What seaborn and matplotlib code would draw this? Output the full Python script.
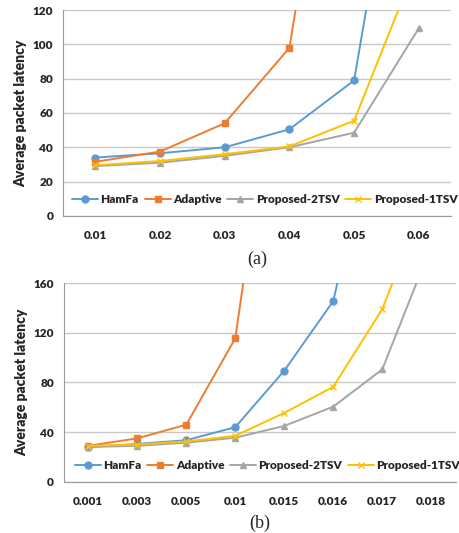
import numpy as np
import pandas as pd
import matplotlib
matplotlib.use('Agg')
import matplotlib.pyplot as plt
import seaborn as sns

# chart (a)
rates_a = ['0.01', '0.02', '0.03', '0.04', '0.05', '0.06']
hamfa_a = [34, 36.5, 40, 50.5, 79, 300]
adaptive_a = [31.5, 37.5, 54, 98, 330, np.nan]
p2tsv_a = [29, 31, 35, 40, 48.5, 109.5]
p1tsv_a = [29.5, 32, 36, 40.5, 55.5, 150]

# chart (b)
rates_b = ['0.001', '0.003', '0.005', '0.01', '0.015', '0.016', '0.017', '0.018']
hamfa_b = [28, 30.5, 33.5, 44, 89.5, 145.5, 320, np.nan]
adaptive_b = [29, 35, 46, 115.5, 390, np.nan, np.nan, np.nan]
p2tsv_b = [28, 29, 31.5, 35.5, 45, 60.5, 90.5, 190]
p1tsv_b = [29, 30, 32.5, 37, 55.5, 76.5, 139, 240]

names = ['HamFa', 'Adaptive', 'Proposed-2TSV', 'Proposed-1TSV']
colors = ['#5B9BD5', '#ED7D31', '#A5A5A5', '#FFC000']
marks = ['o', 's', '^', 'x']

sns.set_style('white')
plt.rcParams['font.family'] = ['Lato', 'DejaVu Sans']


def draw(ax, rates, series, ymax, ystep, label):
    for name, vals, c, m in zip(names, series, colors, marks):
        df = pd.DataFrame({'pos': range(len(vals)), 'latency': vals}).dropna()
        sns.lineplot(data=df, x='pos', y='latency', color=c, marker=m,
                     markersize=5, linewidth=1.4, markeredgecolor=c,
                     markeredgewidth=1, label=name, ax=ax)
    n = len(rates)
    ax.set_xlim(-0.5, n - 0.5)
    ax.set_ylim(0, ymax)
    ax.set_xticks(range(n))
    ax.set_xticklabels(rates, fontsize=8.5, fontweight='heavy', color='#262626')
    ax.set_xticks(np.arange(-0.5, n, 1.0), minor=True)
    ax.tick_params(axis='x', which='major', length=0, pad=10)
    ax.tick_params(axis='x', which='minor', length=4, color='#999999', direction='out')
    ax.set_yticks(np.arange(0, ymax + 1, ystep))
    ax.tick_params(axis='y', length=3, color='#999999', labelsize=8.5, pad=4)
    for t in ax.get_yticklabels():
        t.set_fontweight('heavy')
        t.set_color('#262626')
    ax.yaxis.grid(True, color='#C8C8C8', linewidth=1)
    ax.set_axisbelow(True)
    for s in ['top', 'right']:
        ax.spines[s].set_visible(False)
    for s in ['left', 'bottom']:
        ax.spines[s].set_color('#999999')
    ax.set_xlabel('')
    ax.set_ylabel('Average packet latency', fontsize=10, fontweight='heavy')
    leg = ax.legend(loc='center', bbox_to_anchor=(0.52, 0.08), ncol=4, frameon=True,
                    facecolor='white', edgecolor='none', framealpha=1,
                    handlelength=2.2, handletextpad=0.2, columnspacing=0.5,
                    borderpad=0.1, prop={'weight': 'heavy', 'size': 8.5})
    for t in leg.get_texts():
        t.set_color('#262626')
    ax.text(0.5, -0.21, label, transform=ax.transAxes, ha='center', va='center',
            fontsize=13, family='Liberation Serif')


fig = plt.figure(figsize=(4.59, 5.33), dpi=100)
ax1 = fig.add_axes([0.137, 0.595, 0.846, 0.386])
ax2 = fig.add_axes([0.139, 0.096, 0.854, 0.373])

draw(ax1, rates_a, [hamfa_a, adaptive_a, p2tsv_a, p1tsv_a], 120, 20, '(a)')
draw(ax2, rates_b, [hamfa_b, adaptive_b, p2tsv_b, p1tsv_b], 160, 40, '(b)')

fig.savefig('out.png', dpi=100)
